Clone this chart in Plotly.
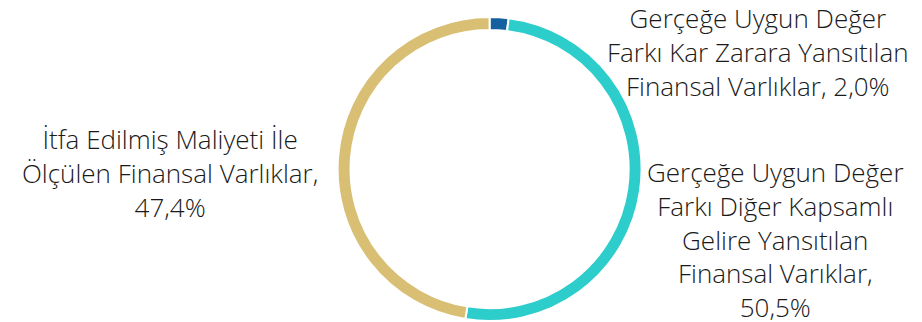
import plotly.graph_objects as go

# Dağılım verisi
labels = [
    "Gerçeğe Uygun Değer<br>Farkı Kar Zarara Yansıtılan<br>Finansal Varlıklar",
    "Gerçeğe Uygun Değer<br>Farkı Diğer Kapsamlı<br>Gelire Yansıtılan<br>Finansal Varıklar",
    "İtfa Edilmiş Maliyeti İle<br>Ölçülen Finansal Varlıklar",
]
values = [2.0, 50.5, 47.4]
colors = ["#1560a0", "#2dcdcc", "#d8bf74"]

fig = go.Figure(go.Pie(
    labels=labels,
    values=values,
    sort=False,
    direction="clockwise",
    rotation=0,
    hole=0.915,
    marker=dict(colors=colors, line=dict(color="white", width=2)),
    textinfo="none",
    hoverinfo="label+percent",
    showlegend=False,
    domain=dict(x=[0.366, 0.696], y=[0.003, 0.947]),
))

# etiketler: "<ad>, <yüzde>" biçiminde
label_pos = [
    dict(x=758, y=52),
    dict(x=775, y=239),
    dict(x=170, y=173),
]
for lab, val, pos in zip(labels, values, label_pos):
    sep = ", " if val < 10 else ",<br>"
    txt = lab + sep + f"{val:.1f}".replace(".", ",") + "%"
    fig.add_annotation(
        x=pos["x"] / 922, y=1 - pos["y"] / 322,
        xref="paper", yref="paper",
        text=txt, showarrow=False,
        xanchor="center", yanchor="middle", align="center",
        font=dict(family="Open Sans", size=26, weight=350, color="#1a1a1a"),
    )

fig.update_layout(
    width=922, height=322,
    margin=dict(l=0, r=0, t=0, b=0),
    paper_bgcolor="white",
    plot_bgcolor="white",
)

fig.write_html("out.html", config={"displayModeBar": False},
               post_script="document.body.style.margin='0px';")
